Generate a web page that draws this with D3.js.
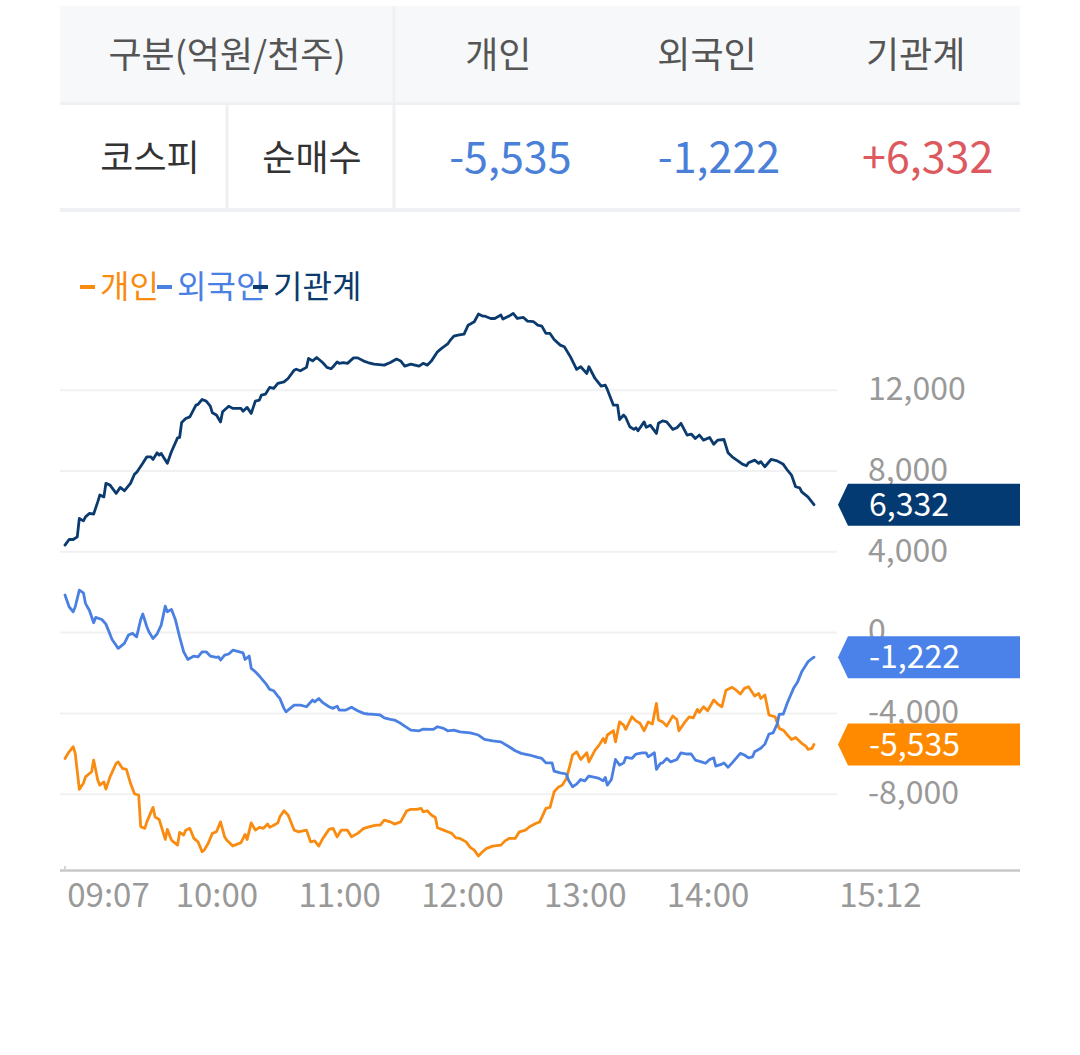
<!DOCTYPE html>
<html><head><meta charset="utf-8">
<script src="https://cdn.jsdelivr.net/npm/d3@7/dist/d3.min.js"></script>
<style>
body{margin:0;background:#fff;}
svg{display:block;font-family:"Noto Sans CJK KR","Noto Sans",sans-serif;}
</style></head><body>
<svg id="c" width="1080" height="1055"></svg>
<script>
// ---------- data ----------
const tableHeader = ["구분(억원/천주)", "개인", "외국인", "기관계"];
const tableRowLabels = ["코스피", "순매수"];
const seriesNames = ["개인", "외국인", "기관계"];
const summaryValues = [-5535, -1222, 6332];
const yTicks = [-8000, -4000, 0, 4000, 8000, 12000];
const xTickTimes = [547, 600, 660, 720, 780, 840, 912]; // minutes since midnight
const xTickLabels = ["09:07", "10:00", "11:00", "12:00", "13:00", "14:00", "15:12"];

// [minutes since midnight, net buy (억원)]
const individual = [[526,-6230],[528,-5900],[530,-5650],[531,-5980],[533,-7760],[535,-7460],[536,-7140],[539,-6890],[540,-6310],[542,-7300],[543,-7550],[545,-7390],[546,-7750],[548,-7140],[551,-6470],[552,-6400],[554,-6720],[556,-6770],[558,-7460],[560,-7990],[562,-8040],[563,-9610],[565,-9690],[566,-9370],[569,-8650],[570,-9120],[572,-9250],[575,-10240],[576,-9740],[578,-10270],[579,-10360],[581,-10520],[582,-9890],[584,-10020],[585,-9780],[587,-9690],[589,-10190],[591,-10360],[593,-10850],[594,-10770],[596,-10430],[598,-9940],[600,-9860],[602,-9370],[604,-10110],[605,-10270],[608,-10570],[609,-10520],[612,-10400],[614,-9990],[615,-10240],[617,-9420],[619,-9780],[621,-9640],[623,-9690],[625,-9480],[626,-9640],[628,-9540],[630,-9420],[631,-9120],[633,-8820],[635,-9030],[638,-9780],[640,-9860],[644,-9780],[646,-10360],[648,-10310],[650,-10570],[652,-10190],[655,-9740],[657,-9690],[659,-10110],[661,-9780],[664,-9780],[666,-10110],[669,-9940],[672,-9690],[675,-9610],[678,-9530],[680,-9530],[682,-9280],[685,-9370],[687,-9480],[690,-9370],[693,-8820],[695,-8750],[698,-8750],[700,-8700],[701,-8870],[703,-8820],[705,-9030],[707,-9150],[708,-9660],[711,-9780],[713,-9860],[715,-9940],[717,-10160],[719,-10190],[722,-10360],[724,-10630],[726,-10770],[728,-11060],[730,-10850],[732,-10680],[735,-10570],[739,-10520],[741,-10310],[743,-10190],[746,-10190],[748,-9860],[751,-9780],[753,-9610],[756,-9450],[758,-9370],[761,-8700],[763,-8650],[765,-7880],[767,-7660],[769,-7550],[771,-7220],[773,-6470],[774,-6060],[776,-5900],[778,-6280],[781,-5950],[782,-6400],[785,-5820],[787,-5570],[789,-5240],[790,-5450],[791,-5070],[794,-4860],[795,-5410],[797,-4420],[799,-4580],[800,-4790],[803,-4170],[805,-4370],[807,-4490],[809,-4860],[811,-4420],[813,-4530],[815,-3500],[816,-4330],[818,-4420],[820,-4630],[823,-4130],[825,-4300],[826,-4860],[829,-4420],[831,-4170],[833,-4220],[835,-3800],[836,-3950],[838,-3670],[840,-3870],[843,-3340],[845,-3540],[847,-3670],[849,-2850],[852,-2710],[854,-2850],[856,-3040],[858,-2760],[860,-2680],[863,-3140],[865,-3010],[866,-3260],[868,-3090],[870,-4080],[873,-4170],[875,-4740],[877,-4830],[879,-5070],[881,-5290],[883,-5190],[886,-5480],[888,-5620],[889,-5780],[891,-5730],[892,-5535]];

const foreign = [[526,1860],[528,1280],[530,1030],[531,1280],[533,2100],[535,1970],[536,1450],[538,1080],[540,490],[541,750],[544,650],[546,420],[549,-340],[552,-780],[555,-530],[557,-120],[559,-40],[561,-210],[563,650],[564,920],[566,290],[567,40],[569,-290],[571,-70],[573,370],[575,1310],[576,1030],[578,1150],[580,620],[582,-210],[584,-950],[586,-1330],[589,-1160],[591,-1200],[593,-950],[595,-950],[597,-1160],[600,-1230],[601,-1200],[602,-1360],[604,-1110],[606,-1060],[608,-870],[610,-920],[613,-1000],[614,-1330],[616,-1160],[617,-1770],[619,-1940],[621,-2150],[624,-2510],[626,-2810],[628,-2880],[630,-3140],[631,-3260],[633,-3750],[634,-3920],[635,-3840],[638,-3590],[641,-3590],[644,-3670],[647,-3340],[648,-3430],[650,-3260],[652,-3470],[655,-3670],[657,-3750],[659,-3640],[660,-3840],[663,-3840],[666,-3700],[669,-3870],[672,-4000],[674,-4030],[677,-4050],[680,-4080],[682,-4220],[685,-4300],[687,-4330],[690,-4490],[692,-4630],[695,-4830],[699,-4860],[701,-4780],[706,-4790],[708,-4660],[711,-4740],[713,-4860],[716,-4830],[719,-4910],[724,-4960],[728,-5070],[731,-5290],[735,-5360],[739,-5410],[743,-5650],[746,-5850],[749,-5980],[753,-6060],[757,-6180],[759,-6230],[761,-6450],[764,-6450],[765,-6860],[768,-6940],[771,-7000],[772,-7300],[774,-7630],[776,-7500],[778,-7270],[780,-7340],[782,-7100],[785,-7170],[787,-7220],[789,-7340],[790,-7170],[791,-7550],[793,-7270],[795,-6280],[797,-6560],[799,-6450],[800,-6180],[803,-6230],[805,-6010],[808,-5950],[810,-5950],[811,-6150],[814,-5950],[815,-6770],[817,-6470],[818,-6450],[820,-6230],[822,-6400],[825,-6280],[827,-5950],[830,-6010],[832,-6010],[834,-6310],[837,-6400],[839,-6470],[841,-6280],[843,-6200],[844,-6610],[847,-6510],[848,-6450],[850,-6670],[852,-6450],[856,-5980],[858,-6060],[860,-6200],[862,-6150],[863,-5900],[866,-5730],[868,-5520],[870,-5020],[872,-4960],[874,-4530],[875,-4050],[877,-4030],[879,-3470],[882,-2760],[884,-2440],[886,-1940],[889,-1450],[891,-1280],[892,-1222]];

const institution = [[526,4330],[528,4610],[530,4610],[532,4740],[533,5650],[535,5530],[536,5730],[538,5900],[540,5870],[542,6470],[543,6810],[545,6720],[546,7390],[548,7300],[551,6890],[553,7190],[555,7020],[558,7390],[560,7850],[561,7930],[564,8380],[566,8700],[568,8700],[569,8570],[571,8900],[572,8790],[573,8870],[576,8380],[578,8950],[581,9640],[582,9660],[583,10400],[585,10600],[587,10680],[590,11260],[591,11300],[593,11540],[595,11460],[597,11210],[598,10880],[600,10770],[602,10430],[603,10930],[606,11210],[608,11100],[612,11100],[613,10960],[615,11150],[617,10850],[619,11460],[621,11510],[622,11760],[624,11810],[626,12140],[628,12090],[630,12340],[633,12410],[635,12580],[638,12990],[639,13040],[641,12960],[644,13130],[645,13570],[647,13450],[649,13620],[652,13360],[654,13130],[656,13060],[657,13160],[659,13400],[660,13330],[662,13370],[664,13330],[667,13600],[669,13600],[672,13440],[674,13370],[677,13290],[682,13240],[685,13370],[688,13540],[690,13450],[692,13190],[695,13290],[699,13190],[701,13330],[703,13240],[705,13440],[708,13900],[710,14070],[713,14290],[714,14440],[716,14680],[718,14730],[721,14780],[723,15220],[726,15390],[728,15770],[730,15670],[731,15670],[734,15550],[736,15550],[739,15720],[740,15520],[743,15670],[745,15800],[747,15550],[750,15600],[752,15420],[755,15390],[757,15220],[759,15170],[761,14810],[763,14810],[765,14510],[768,14230],[770,14150],[773,13650],[776,13030],[778,13160],[781,12830],[782,13160],[785,12580],[788,12200],[790,12250],[791,12040],[794,11260],[796,11260],[797,10550],[799,10770],[800,10650],[802,10190],[804,10060],[805,10140],[806,9990],[809,10430],[810,10160],[812,10270],[815,9860],[816,10360],[818,10480],[820,10430],[823,10060],[825,10140],[827,10360],[830,9780],[832,9830],[834,9610],[836,9780],[838,9530],[841,9660],[843,9320],[845,9530],[848,9560],[850,8900],[852,8700],[855,8490],[857,8340],[859,8260],[860,8410],[863,8540],[865,8380],[866,8460],[868,8210],[871,8570],[874,8500],[877,8330],[879,8040],[881,7800],[883,7220],[885,7170],[886,6970],[889,6720],[892,6332]];

// ---------- style ----------
const lineColors = ["#f98c10", "#4b80e3", "#0b3b6e"];
const badgeColors = ["#ff8a00", "#4a82ea", "#033a71"];
const valueColors = ["#4a80d8", "#4a80d8", "#dc5a5f"];

const loc = d3.formatLocale({decimal: ".", thousands: ",", grouping: [3], currency: ["", ""], minus: "-"});
const fmt = loc.format(",");
const fmtSigned = loc.format("+,");

const svg = d3.select("#c");

// ---------- table ----------
const T = {left: 60, right: 1020, top: 6, headB: 102, rowB: 208, div1: 227, div2: 394};
svg.append("rect").attr("x", T.left).attr("y", T.top).attr("width", T.right - T.left).attr("height", T.headB - T.top).attr("fill", "#f7f8fa");
svg.append("rect").attr("x", T.left).attr("y", T.headB).attr("width", T.right - T.left).attr("height", 3).attr("fill", "#eef0f3");
svg.append("rect").attr("x", T.left).attr("y", T.rowB).attr("width", T.right - T.left).attr("height", 4).attr("fill", "#eef0f3");
svg.append("rect").attr("x", T.div2 - 1.5).attr("y", T.top).attr("width", 3).attr("height", T.rowB - T.top).attr("fill", "#eef0f3");
svg.append("rect").attr("x", T.div1 - 1.5).attr("y", T.headB).attr("width", 3).attr("height", T.rowB - T.headB).attr("fill", "#eef0f3");

const colW = (T.right - T.div2) / 3;
const headX = [(T.left + T.div2) / 2, T.div2 + colW * 0.5, T.div2 + colW * 1.5, T.div2 + colW * 2.5];
svg.selectAll("text.hd").data(tableHeader).join("text").attr("class", "hd")
  .attr("x", (d, i) => headX[i]).attr("y", 55).attr("dy", "0.35em")
  .attr("text-anchor", "middle").attr("font-size", 36).attr("fill", "#555").text(d => d);
const rowLabelX = [150, 312];
svg.selectAll("text.rl").data(tableRowLabels).join("text").attr("class", "rl")
  .attr("x", (d, i) => rowLabelX[i]).attr("y", 158).attr("dy", "0.35em")
  .attr("text-anchor", "middle").attr("font-size", 36).attr("fill", "#333").text(d => d);
svg.selectAll("text.val").data(summaryValues).join("text").attr("class", "val")
  .attr("x", (d, i) => headX[i + 1] + 12).attr("y", 158).attr("dy", "0.35em")
  .attr("text-anchor", "middle").attr("font-size", 43).attr("fill", (d, i) => valueColors[i])
  .text(d => d > 0 ? fmtSigned(d) : fmt(d));

// ---------- legend ----------
const legendX = [80, 157, 253];
const lg = svg.selectAll("g.lg").data(seriesNames).join("g").attr("class", "lg")
  .attr("transform", (d, i) => `translate(${legendX[i]},287)`);
lg.append("rect").attr("x", 0).attr("y", -2).attr("width", 15).attr("height", 4).attr("fill", (d, i) => lineColors[i]);
lg.append("text").attr("x", 20).attr("dy", "0.35em").attr("font-size", 32).attr("fill", (d, i) => lineColors[i]).text(d => d);

// ---------- chart ----------
const x = d3.scaleLinear().domain([526, 892]).range([65, 814]);
const y = d3.scaleLinear().domain([-8000, 12000]).range([794.2, 390.2]);

svg.append("g").selectAll("line").data(yTicks).join("line")
  .attr("x1", 60).attr("x2", 837).attr("y1", d => y(d)).attr("y2", d => y(d))
  .attr("stroke", "#f1f1f1").attr("stroke-width", 2);

const yAxis = svg.append("g").attr("transform", "translate(868,-1)")
  .call(d3.axisRight(y).tickValues(yTicks).tickFormat(fmt).tickSize(0).tickPadding(0));
yAxis.select(".domain").remove();
yAxis.selectAll("text").attr("font-size", 32).attr("fill", "#999").attr("font-family", "Noto Sans CJK KR");

svg.append("line").attr("x1", 60).attr("x2", 1020).attr("y1", 870.5).attr("y2", 870.5)
  .attr("stroke", "#c8c8c8").attr("stroke-width", 2.5);
svg.append("line").attr("x1", x(526)).attr("x2", x(526)).attr("y1", 866).attr("y2", 869)
  .attr("stroke", "#c8c8c8").attr("stroke-width", 1.5);

const xAxis = svg.append("g").attr("transform", "translate(0,895)")
  .call(d3.axisBottom(x).tickValues(xTickTimes).tickFormat((d, i) => xTickLabels[i]).tickSize(0).tickPadding(0));
xAxis.select(".domain").remove();
xAxis.selectAll("text").attr("font-size", 33).attr("fill", "#999").attr("font-family", "Noto Sans CJK KR")
  .attr("dy", "0.35em").attr("dx", (d, i) => i === xTickTimes.length - 1 ? 25 : 0);

const line = d3.line().x(d => x(d[0])).y(d => y(d[1]));
const allSeries = [individual, foreign, institution];
svg.append("g").selectAll("path").data(allSeries).join("path")
  .attr("d", line).attr("fill", "none").attr("stroke", (d, i) => lineColors[i])
  .attr("stroke-width", 2.8).attr("stroke-linejoin", "round").attr("stroke-linecap", "round");

// ---------- end badges ----------
const bg = svg.selectAll("g.badge").data(summaryValues).join("g").attr("class", "badge")
  .attr("transform", d => `translate(0,${y(d)})`);
bg.append("path").attr("d", "M838,0 L848,-21 L1020,-21 L1020,21 L848,21 Z").attr("fill", (d, i) => badgeColors[i]);
bg.append("text").attr("x", 869).attr("dy", "0.35em").attr("font-size", 32).attr("fill", "#fff").text(d => fmt(d));
</script>
</body></html>
